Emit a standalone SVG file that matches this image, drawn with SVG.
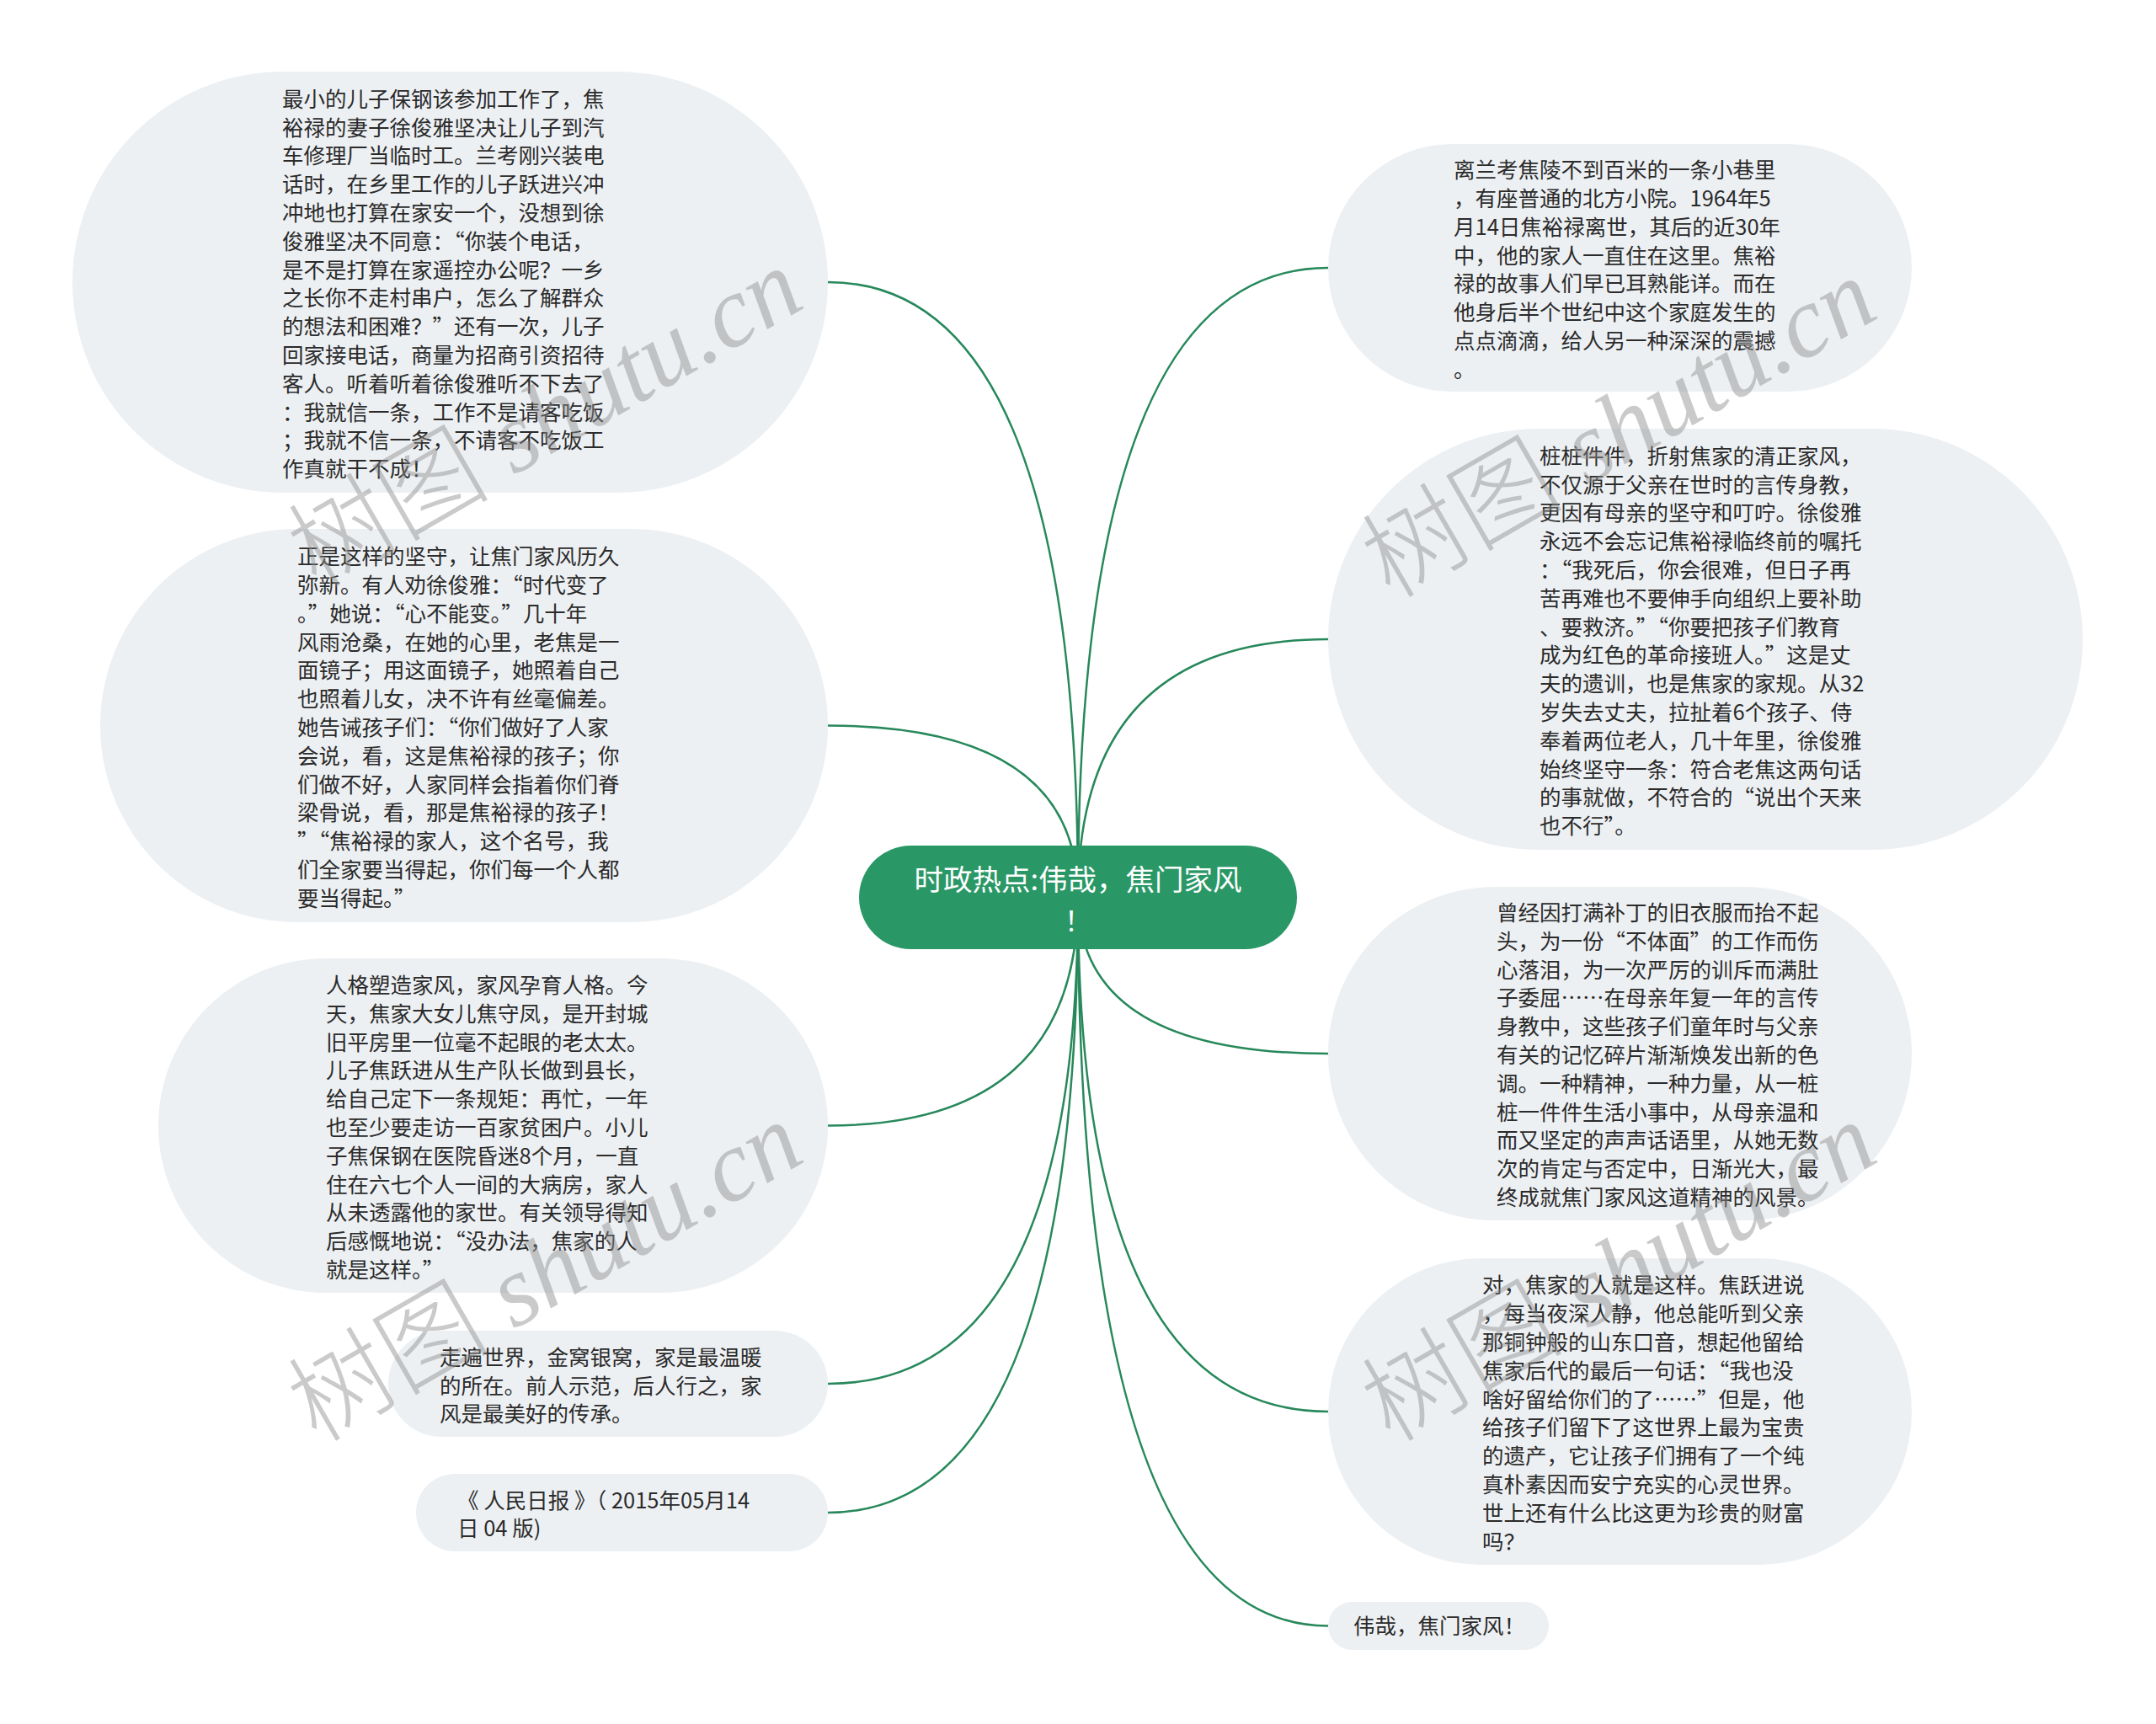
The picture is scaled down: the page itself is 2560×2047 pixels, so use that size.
<svg xmlns="http://www.w3.org/2000/svg" width="2560" height="2047" viewBox="0 0 2560 2047">
<style>
.node{fill:#edf0f3}
.root{fill:#2a9866}
.t{font-family:"Noto Sans CJK SC","Noto Sans",sans-serif;font-size:25.5px;fill:#2b2b2b}
.rt{font-family:"Noto Sans CJK SC","Noto Sans",sans-serif;font-size:34.5px;fill:#ffffff;text-anchor:middle}
.c{fill:none;stroke:#27885b;stroke-width:2.5}
.wm{fill:#8c8c8c;opacity:0.45;font-size:120px}
.wcjk{font-family:"Noto Sans CJK SC",sans-serif;font-weight:300}
.wlat{font-family:"Liberation Serif",serif;font-style:italic}
</style>
<rect x="0" y="0" width="2560" height="2047" fill="#ffffff"/>
<g id="connectors">
<path class="c" d="M1280,1065 Q1280,335 983,335"/>
<path class="c" d="M1280,1065 Q1280,861.5 983,861.5"/>
<path class="c" d="M1280,1065 Q1280,1336.5 983,1336.5"/>
<path class="c" d="M1280,1065 Q1280,1643 983,1643"/>
<path class="c" d="M1280,1065 Q1280,1796 983,1796"/>
<path class="c" d="M1280,1065 Q1280,318 1577,318"/>
<path class="c" d="M1280,1065 Q1280,759 1577,759"/>
<path class="c" d="M1280,1065 Q1280,1251 1577,1251"/>
<path class="c" d="M1280,1065 Q1280,1676 1577,1676"/>
<path class="c" d="M1280,1065 Q1280,1930.5 1577,1930.5"/>
</g>
<g id="root-node">
<rect class="root" x="1020" y="1004" width="520" height="123" rx="61.5"/>
<text class="rt"><tspan x="1280" y="1057">时政热点:伟哉，焦门家风</tspan><tspan x="1280" y="1105" style="font-size:32px">！</tspan></text>
</g>
<g id="node-l1">
<rect class="node" x="86" y="85" width="897" height="500" rx="250"/>
<text class="t" x="335" y="126.8"><tspan x="335">最小的儿子保钢该参加工作了，焦</tspan><tspan x="335" dy="33.8">裕禄的妻子徐俊雅坚决让儿子到汽</tspan><tspan x="335" dy="33.8">车修理厂当临时工。兰考刚兴装电</tspan><tspan x="335" dy="33.8">话时，在乡里工作的儿子跃进兴冲</tspan><tspan x="335" dy="33.8">冲地也打算在家安一个，没想到徐</tspan><tspan x="335" dy="33.8">俊雅坚决不同意：“你装个电话，</tspan><tspan x="335" dy="33.8">是不是打算在家遥控办公呢？一乡</tspan><tspan x="335" dy="33.8">之长你不走村串户，怎么了解群众</tspan><tspan x="335" dy="33.8">的想法和困难？”还有一次，儿子</tspan><tspan x="335" dy="33.8">回家接电话，商量为招商引资招待</tspan><tspan x="335" dy="33.8">客人。听着听着徐俊雅听不下去了</tspan><tspan x="335" dy="33.8">：我就信一条，工作不是请客吃饭</tspan><tspan x="335" dy="33.8">；我就不信一条，不请客不吃饭工</tspan><tspan x="335" dy="33.8">作真就干不成！</tspan></text>
</g>
<g id="node-l2">
<rect class="node" x="119" y="628" width="864" height="467" rx="233.5"/>
<text class="t" x="353" y="670.2"><tspan x="353">正是这样的坚守，让焦门家风历久</tspan><tspan x="353" dy="33.8">弥新。有人劝徐俊雅：“时代变了</tspan><tspan x="353" dy="33.8">。”她说：“心不能变。”几十年</tspan><tspan x="353" dy="33.8">风雨沧桑，在她的心里，老焦是一</tspan><tspan x="353" dy="33.8">面镜子；用这面镜子，她照着自己</tspan><tspan x="353" dy="33.8">也照着儿女，决不许有丝毫偏差。</tspan><tspan x="353" dy="33.8">她告诫孩子们：“你们做好了人家</tspan><tspan x="353" dy="33.8">会说，看，这是焦裕禄的孩子；你</tspan><tspan x="353" dy="33.8">们做不好，人家同样会指着你们脊</tspan><tspan x="353" dy="33.8">梁骨说，看，那是焦裕禄的孩子！</tspan><tspan x="353" dy="33.8">”“焦裕禄的家人，这个名号，我</tspan><tspan x="353" dy="33.8">们全家要当得起，你们每一个人都</tspan><tspan x="353" dy="33.8">要当得起。”</tspan></text>
</g>
<g id="node-l3">
<rect class="node" x="188" y="1138" width="795" height="397" rx="198.5"/>
<text class="t" x="387" y="1179"><tspan x="387">人格塑造家风，家风孕育人格。今</tspan><tspan x="387" dy="33.8">天，焦家大女儿焦守凤，是开封城</tspan><tspan x="387" dy="33.8">旧平房里一位毫不起眼的老太太。</tspan><tspan x="387" dy="33.8">儿子焦跃进从生产队长做到县长，</tspan><tspan x="387" dy="33.8">给自己定下一条规矩：再忙，一年</tspan><tspan x="387" dy="33.8">也至少要走访一百家贫困户。小儿</tspan><tspan x="387" dy="33.8">子焦保钢在医院昏迷8个月，一直</tspan><tspan x="387" dy="33.8">住在六七个人一间的大病房，家人</tspan><tspan x="387" dy="33.8">从未透露他的家世。有关领导得知</tspan><tspan x="387" dy="33.8">后感慨地说：“没办法，焦家的人</tspan><tspan x="387" dy="33.8">就是这样。”</tspan></text>
</g>
<g id="node-l4">
<rect class="node" x="461" y="1580" width="522" height="126" rx="63"/>
<text class="t" x="522" y="1620.7"><tspan x="522">走遍世界，金窝银窝，家是最温暖</tspan><tspan x="522" dy="33.8">的所在。前人示范，后人行之，家</tspan><tspan x="522" dy="33.8">风是最美好的传承。</tspan></text>
</g>
<g id="node-l5">
<rect class="node" x="494" y="1750" width="489" height="92" rx="46"/>
<text class="t" x="543" y="1790.6"><tspan x="543">《 人民日报 》（ 2015年05月14</tspan><tspan x="543" dy="33.8">日 04 版)</tspan></text>
</g>
<g id="node-r1">
<rect class="node" x="1577" y="171" width="693" height="294" rx="147"/>
<text class="t" x="1726" y="211.2"><tspan x="1726">离兰考焦陵不到百米的一条小巷里</tspan><tspan x="1726" dy="33.8">，有座普通的北方小院。1964年5</tspan><tspan x="1726" dy="33.8">月14日焦裕禄离世，其后的近30年</tspan><tspan x="1726" dy="33.8">中，他的家人一直住在这里。焦裕</tspan><tspan x="1726" dy="33.8">禄的故事人们早已耳熟能详。而在</tspan><tspan x="1726" dy="33.8">他身后半个世纪中这个家庭发生的</tspan><tspan x="1726" dy="33.8">点点滴滴，给人另一种深深的震撼</tspan><tspan x="1726" dy="33.8">。</tspan></text>
</g>
<g id="node-r2">
<rect class="node" x="1577" y="509" width="896" height="500" rx="250"/>
<text class="t" x="1828" y="550.8"><tspan x="1828">桩桩件件，折射焦家的清正家风，</tspan><tspan x="1828" dy="33.8">不仅源于父亲在世时的言传身教，</tspan><tspan x="1828" dy="33.8">更因有母亲的坚守和叮咛。徐俊雅</tspan><tspan x="1828" dy="33.8">永远不会忘记焦裕禄临终前的嘱托</tspan><tspan x="1828" dy="33.8">：“我死后，你会很难，但日子再</tspan><tspan x="1828" dy="33.8">苦再难也不要伸手向组织上要补助</tspan><tspan x="1828" dy="33.8">、要救济。”“你要把孩子们教育</tspan><tspan x="1828" dy="33.8">成为红色的革命接班人。”这是丈</tspan><tspan x="1828" dy="33.8">夫的遗训，也是焦家的家规。从32</tspan><tspan x="1828" dy="33.8">岁失去丈夫，拉扯着6个孩子、侍</tspan><tspan x="1828" dy="33.8">奉着两位老人，几十年里，徐俊雅</tspan><tspan x="1828" dy="33.8">始终坚守一条：符合老焦这两句话</tspan><tspan x="1828" dy="33.8">的事就做，不符合的“说出个天来</tspan><tspan x="1828" dy="33.8">也不行”。</tspan></text>
</g>
<g id="node-r3">
<rect class="node" x="1577" y="1053" width="693" height="396" rx="198"/>
<text class="t" x="1777" y="1093"><tspan x="1777">曾经因打满补丁的旧衣服而抬不起</tspan><tspan x="1777" dy="33.8">头，为一份“不体面”的工作而伤</tspan><tspan x="1777" dy="33.8">心落泪，为一次严厉的训斥而满肚</tspan><tspan x="1777" dy="33.8">子委屈……在母亲年复一年的言传</tspan><tspan x="1777" dy="33.8">身教中，这些孩子们童年时与父亲</tspan><tspan x="1777" dy="33.8">有关的记忆碎片渐渐焕发出新的色</tspan><tspan x="1777" dy="33.8">调。一种精神，一种力量，从一桩</tspan><tspan x="1777" dy="33.8">桩一件件生活小事中，从母亲温和</tspan><tspan x="1777" dy="33.8">而又坚定的声声话语里，从她无数</tspan><tspan x="1777" dy="33.8">次的肯定与否定中，日渐光大，最</tspan><tspan x="1777" dy="33.8">终成就焦门家风这道精神的风景。</tspan></text>
</g>
<g id="node-r4">
<rect class="node" x="1577" y="1494" width="693" height="364" rx="182"/>
<text class="t" x="1760" y="1535.4"><tspan x="1760">对，焦家的人就是这样。焦跃进说</tspan><tspan x="1760" dy="33.8">，每当夜深人静，他总能听到父亲</tspan><tspan x="1760" dy="33.8">那铜钟般的山东口音，想起他留给</tspan><tspan x="1760" dy="33.8">焦家后代的最后一句话：“我也没</tspan><tspan x="1760" dy="33.8">啥好留给你们的了……”但是，他</tspan><tspan x="1760" dy="33.8">给孩子们留下了这世界上最为宝贵</tspan><tspan x="1760" dy="33.8">的遗产，它让孩子们拥有了一个纯</tspan><tspan x="1760" dy="33.8">真朴素因而安宁充实的心灵世界。</tspan><tspan x="1760" dy="33.8">世上还有什么比这更为珍贵的财富</tspan><tspan x="1760" dy="33.8">吗？</tspan></text>
</g>
<g id="node-r5">
<rect class="node" x="1577" y="1902" width="262" height="57" rx="28.5"/>
<text class="t" x="1607" y="1940">伟哉，焦门家风！</text>
</g>
<g id="watermark">
<text class="wm" transform="translate(376,700) rotate(-30)"><tspan class="wcjk">树图</tspan><tspan class="wlat"> shutu.cn</tspan></text>
<text class="wm" transform="translate(376,1714) rotate(-30)"><tspan class="wcjk">树图</tspan><tspan class="wlat"> shutu.cn</tspan></text>
<text class="wm" transform="translate(1651,712) rotate(-30)"><tspan class="wcjk">树图</tspan><tspan class="wlat"> shutu.cn</tspan></text>
<text class="wm" transform="translate(1651,1714) rotate(-30)"><tspan class="wcjk">树图</tspan><tspan class="wlat"> shutu.cn</tspan></text>
</g>
</svg>
